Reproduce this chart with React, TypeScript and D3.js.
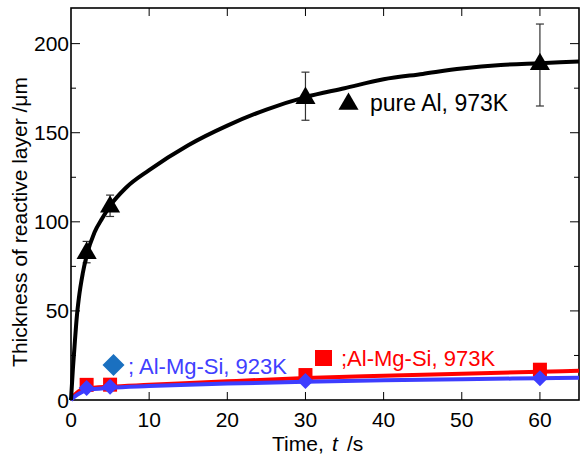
import React from "react";
import * as d3 from "d3";

// pure Al, 973K measurements
const alTimes = [2, 5, 30, 60];
const alThick = [83, 109, 170, 189];
const alErrLow = [77, 103, 157, 165];
const alErrHigh = [89, 115, 184, 211];
// fitted curve for pure Al
const alFitT = [0, 0.25, 0.5, 0.75, 1, 1.5, 2, 3, 4, 5, 7, 10, 15, 20, 25, 30, 35, 40, 45, 50, 55, 60, 65];
const alFitY = [0, 18, 33, 47, 57, 71, 81, 94, 102, 109, 119, 129, 143, 154, 163, 170, 175, 180, 183, 186, 188, 189, 190];

// Al-Mg-Si, 973K
const redTimes = [2, 5, 30, 60];
const redThick = [8.5, 8.6, 14, 17];
const redFitT = [0, 0.5, 1, 2, 5, 10, 20, 30, 40, 50, 60, 65];
const redFitY = [0, 3, 5, 6.5, 7.5, 8.5, 10.5, 12.3, 13.6, 14.8, 15.9, 16.4];

// Al-Mg-Si, 923K
const blueTimes = [2, 5, 30, 60];
const blueThick = [6.7, 7.5, 10.7, 12.2];
const blueFitT = [0, 0.5, 1, 2, 5, 10, 20, 30, 40, 50, 60, 65];
const blueFitY = [0, 2, 3.5, 5.5, 6.8, 7.8, 9.2, 10.3, 11.1, 11.7, 12.2, 12.5];

const xTicks = [0, 10, 20, 30, 40, 50, 60];
const yMajor = [0, 50, 100, 150, 200];
const yMinor = [25, 75, 125, 175];

const W = 581;
const H = 458;
const m = { left: 71, top: 8, right: 2, bottom: 58 };
const FONT = "Liberation Sans, Arial, sans-serif";

export default function App() {
  const x = d3.scaleLinear().domain([0, 65]).range([m.left, W - m.right]);
  const y = d3.scaleLinear().domain([0, 220]).range([H - m.bottom, m.top]);
  const [x0, x1] = x.range();
  const [y0, y1] = y.range();

  const line = d3
    .line<[number, number]>()
    .x(d => x(d[0]))
    .y(d => y(d[1]))
    .curve(d3.curveMonotoneX);

  const alPath = line(alFitT.map((t, i) => [t, alFitY[i]]) as [number, number][]) || "";
  const redPath = line(redFitT.map((t, i) => [t, redFitY[i]]) as [number, number][]) || "";
  const bluePath = line(blueFitT.map((t, i) => [t, blueFitY[i]]) as [number, number][]) || "";

  const tri = d3.symbol().type(d3.symbolTriangle).size(175)() || "";
  const sq = 14;
  const dia = (cx: number, cy: number, r: number) =>
    `M${cx},${cy - r}L${cx + r},${cy}L${cx},${cy + r}L${cx - r},${cy}Z`;

  return (
    <svg width={W} height={H} style={{ position: "absolute", left: 0, top: 0 }} fontFamily={FONT}>
      <rect width={W} height={H} fill="#fff" />
      {/* frame */}
      <rect x={x0} y={y1} width={x1 - x0} height={y0 - y1} fill="none" stroke="#000" strokeWidth={1.6} />
      {/* x ticks */}
      {xTicks.map(t => (
        <g key={"xt" + t}>
          {t > 0 && <line x1={x(t)} x2={x(t)} y1={y0} y2={y0 - 8} stroke="#000" strokeWidth={1} />}
          {t > 0 && <line x1={x(t)} x2={x(t)} y1={y1} y2={y1 + 8} stroke="#000" strokeWidth={1} />}
          <text x={x(t)} y={427} textAnchor="middle" fontSize={21}>{t}</text>
        </g>
      ))}
      {/* y ticks */}
      {yMajor.map(v => (
        <g key={"ym" + v}>
          {v > 0 && <line x1={x0} x2={x0 + 9} y1={y(v)} y2={y(v)} stroke="#000" strokeWidth={1} />}
          {v > 0 && <line x1={x1} x2={x1 - 9} y1={y(v)} y2={y(v)} stroke="#000" strokeWidth={1} />}
          <text x={x0 - 2} y={y(v) + 7.5} textAnchor="end" fontSize={21}>{v}</text>
        </g>
      ))}
      {yMinor.map(v => (
        <g key={"yn" + v}>
          <line x1={x0} x2={x0 + 5} y1={y(v)} y2={y(v)} stroke="#000" strokeWidth={1} />
          <line x1={x1} x2={x1 - 5} y1={y(v)} y2={y(v)} stroke="#000" strokeWidth={1} />
        </g>
      ))}
      {/* axis titles */}
      <text x={272} y={451} fontSize={21}>Time,</text>
      <text x={332} y={451} fontSize={21} fontStyle="italic">t</text>
      <text x={347} y={451} fontSize={21}>/s</text>
      <text transform={`translate(27,222) rotate(-90)`} textAnchor="middle" fontSize={21}>
        Thickness of reactive layer /μm
      </text>

      {/* Al-Mg-Si 973K */}
      {redTimes.map((t, i) => (
        <rect key={"rs" + i} x={x(t) - sq / 2} y={y(redThick[i]) - sq / 2} width={sq} height={sq} fill="#ff0000" />
      ))}
      <path d={redPath} fill="none" stroke="#ff0000" strokeWidth={4} />
      {/* Al-Mg-Si 923K */}
      <path d={bluePath} fill="none" stroke="#3d3dff" strokeWidth={4} />
      {blueTimes.map((t, i) => (
        <path key={"bd" + i} d={dia(x(t), y(blueThick[i]), 8)} fill="#3d3dff" />
      ))}

      {/* pure Al */}
      {alTimes.map((t, i) => (
        <g key={"eb" + i} stroke="#333" strokeWidth={1.2}>
          <line x1={x(t)} x2={x(t)} y1={y(alErrLow[i])} y2={y(alErrHigh[i])} />
          <line x1={x(t) - 4} x2={x(t) + 4} y1={y(alErrLow[i])} y2={y(alErrLow[i])} />
          <line x1={x(t) - 4} x2={x(t) + 4} y1={y(alErrHigh[i])} y2={y(alErrHigh[i])} />
        </g>
      ))}
      <path d={alPath} fill="none" stroke="#000" strokeWidth={4} />
      {alTimes.map((t, i) => (
        <path key={"tr" + i} d={tri} transform={`translate(${x(t)},${y(alThick[i]) + 1})`} fill="#000" />
      ))}

      {/* legends */}
      <path d={tri} transform="translate(348.5,104)" fill="#000" />
      <text x={370} y={111} fontSize={23}>pure Al, 973K</text>

      <rect x={315} y={350} width={17} height={16} fill="#ff0000" />
      <text x={341} y={366} fontSize={22} fill="#ff0000">;Al-Mg-Si, 973K</text>

      <path d={dia(113.5, 365, 11)} fill="#1a70c0" />
      <text x={128} y={374} fontSize={22} fill="#4040ff">; Al-Mg-Si, 923K</text>
    </svg>
  );
}
